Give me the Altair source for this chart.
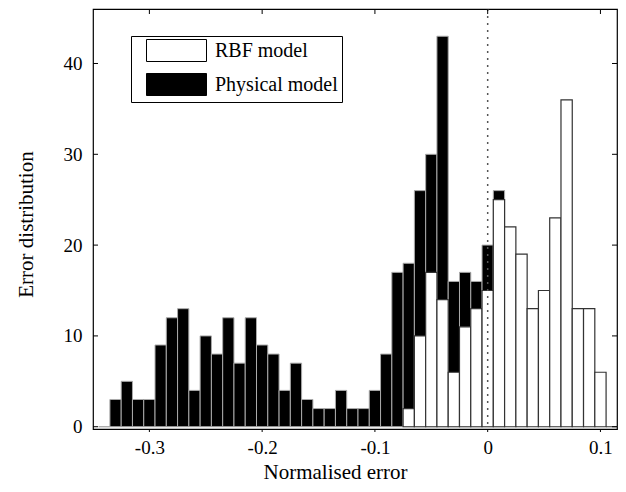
import altair as alt
import pandas as pd

# ---- data ----
phys_bins = [-0.34, -0.33, -0.32, -0.31, -0.30, -0.29, -0.28, -0.27, -0.26, -0.25,
             -0.24, -0.23, -0.22, -0.21, -0.20, -0.19, -0.18, -0.17, -0.16, -0.15,
             -0.14, -0.13, -0.12, -0.11, -0.10, -0.09, -0.08, -0.07, -0.06, -0.05,
             -0.04, -0.03, -0.02, -0.01, 0.00, 0.01]
phys_counts = [0, 3, 5, 3, 3, 9, 12, 13, 4, 10,
               8, 12, 7, 12, 9, 8, 4, 7, 3, 2,
               2, 4, 2, 2, 4, 8, 17, 18, 26, 30,
               43, 16, 17, 16, 20, 26]
rbf_bins = [-0.07, -0.06, -0.05, -0.04, -0.03, -0.02, -0.01, 0.00, 0.01, 0.02,
            0.03, 0.04, 0.05, 0.06, 0.07, 0.08, 0.09, 0.10, 0.11]
rbf_counts = [2, 10, 17, 14, 6, 11, 13, 15, 25, 22,
              19, 13, 15, 23, 36, 13, 13, 6, 0]
x_ticks = [-0.3, -0.2, -0.1, 0.0, 0.1]
y_ticks = [0, 10, 20, 30, 40]
zero_line = [0.0]
bin_width = 0.01
models = ["RBF model", "Physical model"]

FONT = "Liberation Serif"
H = 420
PX_PER_UNIT = 530 / 0.47          # horizontal scale of the reference
W = 524                            # keep the whole page inside the window
X_MIN = -0.35
X_MAX = X_MIN + W / PX_PER_UNIT

phys = pd.DataFrame({"center": phys_bins, "count": phys_counts, "model": models[1]})
rbf = pd.DataFrame({"center": rbf_bins, "count": rbf_counts, "model": models[0]})
for df in (phys, rbf):
    df["lo"] = df["center"] - bin_width / 2
    df["hi"] = df["center"] + bin_width / 2

xscale = alt.Scale(domain=[X_MIN, X_MAX], nice=False, zero=False)
yscale = alt.Scale(domain=[-0.25, 46], nice=False, zero=False)
cscale = alt.Scale(domain=models, range=["white", "black"])

legend = alt.Legend(
    title=None, orient="none", legendX=38, legendY=27, direction="vertical",
    symbolType="M-3,-1.1H3V1.1H-3Z", symbolSize=400,
    symbolStrokeColor="black", symbolStrokeWidth=1, symbolOffset=31,
    labelOffset=28, labelFont=FONT, labelFontSize=20, labelColor="black",
    padding=4, rowPadding=7, strokeColor="black", fillColor="white",
)

xaxis = alt.Axis(
    values=x_ticks, title="Normalised error", grid=False, domain=False, tickSize=0,
    labelExpr="datum.value == 0 ? '0' : (datum.value < 0 ? '-' : '') + format(abs(datum.value), '.1f')",
    labelFont=FONT, labelFontSize=19, labelPadding=9, labelColor="black", labelFlush=False,
    titleFont=FONT, titleFontSize=21, titleFontWeight="normal", titleColor="black",
    titleX=242, titleY=49, titleBaseline="alphabetic", titleAlign="center",
)
yaxis = alt.Axis(
    values=y_ticks, title="Error distribution", grid=False, domain=False, tickSize=0,
    labelFont=FONT, labelFontSize=19, labelPadding=11, labelColor="black",
    titleFont=FONT, titleFontSize=21, titleFontWeight="normal", titleColor="black",
    titleX=-61, titleY=215, titleBaseline="alphabetic", titleAlign="center", titleAngle=270,
)

phys_layer = alt.Chart(phys).mark_bar(stroke="#aaaaaa", strokeWidth=1).encode(
    x=alt.X("lo:Q", scale=xscale, axis=xaxis),
    x2="hi:Q",
    y=alt.Y("count:Q", scale=yscale, axis=yaxis),
    y2=alt.datum(0),
    fill=alt.Fill("model:N", scale=cscale, legend=legend),
)
rbf_layer = alt.Chart(rbf).mark_bar(stroke="#333333", strokeWidth=1.2).encode(
    x=alt.X("lo:Q", scale=xscale, axis=xaxis),
    x2="hi:Q",
    y=alt.Y("count:Q", scale=yscale, axis=yaxis),
    y2=alt.datum(0),
    fill=alt.Fill("model:N", scale=cscale, legend=legend),
)

zero_df = pd.DataFrame({"v": zero_line})
dotted = alt.Chart(zero_df).mark_rule(color="#555555", strokeWidth=1.5, strokeDash=[2, 5]).encode(
    x=alt.X("v:Q", scale=xscale, axis=xaxis),
    y=alt.value(0), y2=alt.value(H),
)

xt = pd.DataFrame({"v": x_ticks})
yt = pd.DataFrame({"v": y_ticks})
TL = 5
xt_bottom = alt.Chart(xt).mark_rule(color="black", strokeWidth=1).encode(
    x=alt.X("v:Q", scale=xscale, axis=xaxis), y=alt.value(H), y2=alt.value(H + 3))
xt_top = alt.Chart(xt).mark_rule(color="black", strokeWidth=1).encode(
    x=alt.X("v:Q", scale=xscale, axis=xaxis), y=alt.value(0), y2=alt.value(TL))
yt_left = alt.Chart(yt).mark_rule(color="black", strokeWidth=1).encode(
    y=alt.Y("v:Q", scale=yscale, axis=yaxis), x=alt.value(0), x2=alt.value(TL))
yt_right = alt.Chart(yt).mark_rule(color="black", strokeWidth=1).encode(
    y=alt.Y("v:Q", scale=yscale, axis=yaxis), x=alt.value(W), x2=alt.value(W - TL))

chart = alt.layer(
    phys_layer, rbf_layer, dotted, xt_bottom, xt_top, yt_left, yt_right
).properties(
    width=W, height=H,
    autosize=alt.AutoSizeParams(type="none"),
    padding={"left": 85, "top": 1, "right": 1, "bottom": 55},
).configure(
    font=FONT,
).configure_view(
    stroke="black", strokeWidth=1.2,
)

chart.save("out.html", embed_options={"renderer": "svg", "actions": False})
